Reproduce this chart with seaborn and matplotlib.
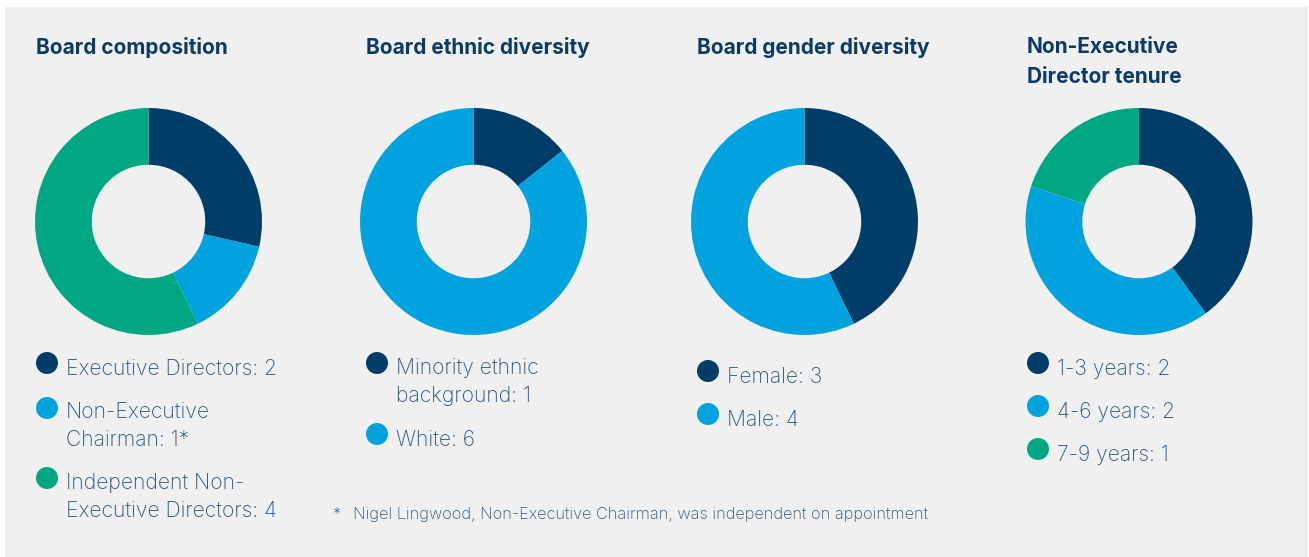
import matplotlib
matplotlib.use("Agg")
import matplotlib.pyplot as plt
from matplotlib.patches import Rectangle, Circle
import seaborn as sns

sns.set_theme(style="white")
plt.rcParams["font.family"] = ["Inter", "DejaVu Sans"]

# Board data
titles = ["Board composition", "Board ethnic diversity",
          "Board gender diversity", "Non-Executive\nDirector tenure"]

composition_labels = ["Executive Directors: 2", "Non-Executive\nChairman: 1*",
                      "Independent Non-\nExecutive Directors: 4"]
composition_values = [2, 1, 4]

ethnic_labels = ["Minority ethnic\nbackground: 1", "White: 6"]
ethnic_values = [1, 6]

gender_labels = ["Female: 3", "Male: 4"]
gender_values = [3, 4]

tenure_labels = ["1-3 years: 2", "4-6 years: 2", "7-9 years: 1"]
tenure_values = [2, 2, 1]

footnote = "Nigel Lingwood, Non-Executive Chairman, was independent on appointment"

NAVY = "#003d69"
BLUE = "#00a3dd"
GREEN = "#00a783"
palette = sns.color_palette([NAVY, BLUE, GREEN])
TITLE_C = "#0b3b66"
TEXT_C = "#2b5883"
PANEL = "#f0f0f0"

W, H = 1309, 557
fig = plt.figure(figsize=(W / 100, H / 100), dpi=100, facecolor="white")
fig.patches.append(Rectangle((5 / W, 0), (W - 6) / W, (H - 7) / H,
                             transform=fig.transFigure, facecolor=PANEL,
                             edgecolor="none", zorder=-5))


def px(x, y):
    return x / W, 1 - y / H


charts = [
    dict(values=composition_values, labels=composition_labels, cx=148.5,
         tx=36, lx=47, ly=[363, 408, 478], ty=[369, 426, 497]),
    dict(values=ethnic_values, labels=ethnic_labels, cx=473.5,
         tx=366, lx=377, ly=[363, 434], ty=[382, 440]),
    dict(values=gender_values, labels=gender_labels, cx=804.5,
         tx=697, lx=708, ly=[371, 414], ty=[377, 420]),
    dict(values=tenure_values, labels=tenure_labels, cx=1139,
         tx=1027, lx=1038, ly=[363, 406, 449], ty=[369, 412, 455]),
]

CY, R = 221.5, 113.5

for title, ch in zip(titles, charts):
    # donut
    ax = fig.add_axes([(ch["cx"] - R) / W, 1 - (CY + R) / H, 2 * R / W, 2 * R / H])
    ax.pie(ch["values"], colors=palette[:len(ch["values"])], startangle=90,
           counterclock=False, radius=1,
           wedgeprops=dict(width=0.5, edgecolor="none"))
    ax.set_xlim(-1, 1)
    ax.set_ylim(-1, 1)
    ax.set_aspect("equal")
    ax.axis("off")

    # title
    tx, ty = px(ch["tx"], 37)
    fig.text(tx, ty, title, ha="left", va="top", fontsize=15.0,
             fontweight="bold", color=TITLE_C, linespacing=1.6)

    # legend
    for i, (lab, my, tyy) in enumerate(zip(ch["labels"], ch["ly"], ch["ty"])):
        fig.patches.append(Circle((ch["lx"], H - my), 11, transform=None,
                                  facecolor=palette[i], edgecolor="none"))
        x0, y0 = px(ch["lx"] + 19, tyy)
        fig.text(x0, y0, lab, ha="left", va="center", fontsize=15.2,
                 fontweight="light", color=TEXT_C, linespacing=1.5)

fig.text(*px(333, 515), "*", ha="left", va="center", fontsize=11.7,
         fontweight="light", color=TEXT_C)
fig.text(*px(353, 515), footnote, ha="left", va="center", fontsize=11.7,
         fontweight="light", color=TEXT_C)

fig.savefig("out.png", dpi=100, facecolor="white")
